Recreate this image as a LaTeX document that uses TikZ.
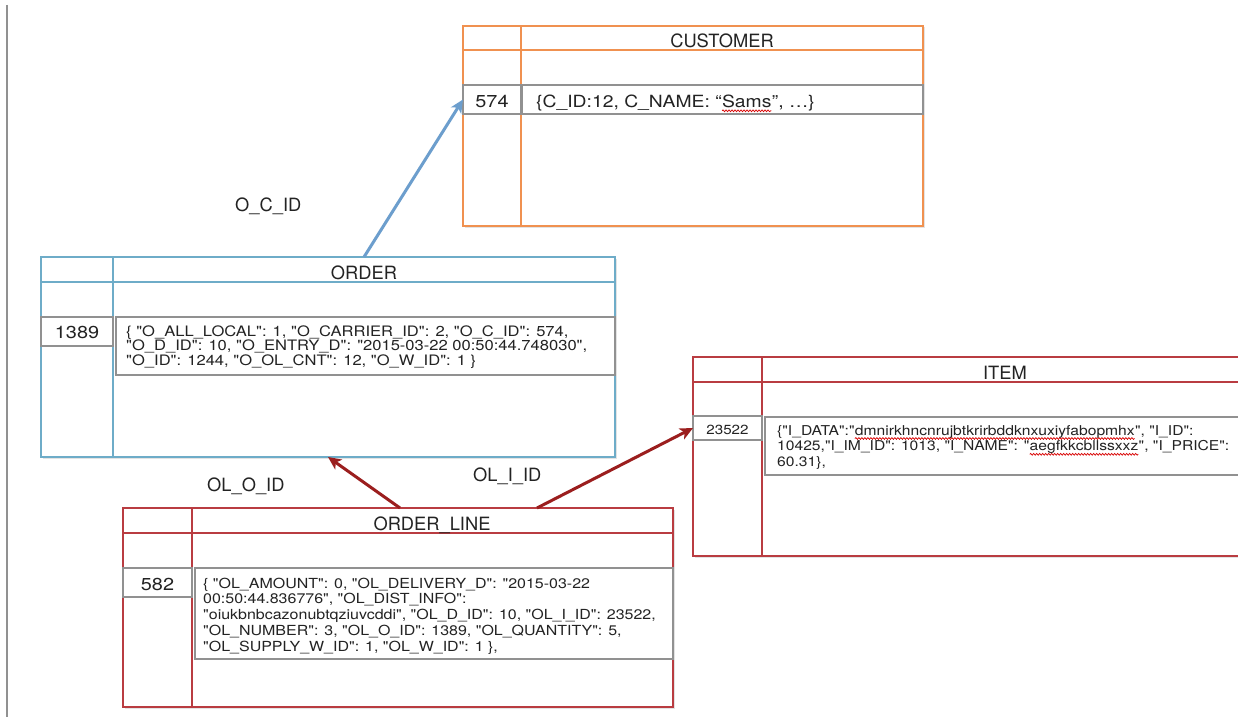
\documentclass[tikz,border=0pt]{standalone}
\usepackage{fontspec}
\setmainfont{TeX Gyre Heros}
\newfontfamily\datafont[FakeStretch=1.15]{TeX Gyre Heros}
\usetikzlibrary{arrows.meta,shadows,decorations.pathmorphing}
\definecolor{custorange}{RGB}{240,145,80}
\definecolor{ordblue}{RGB}{110,172,200}
\definecolor{tabred}{RGB}{185,60,65}
\definecolor{arrblue}{RGB}{108,158,205}
\definecolor{arrred}{RGB}{155,30,30}
\definecolor{rowgrey}{RGB}{145,145,145}
\definecolor{txt}{RGB}{35,35,35}
\newcommand\spellwave[1]{\tikz[baseline=(sw.base)]{\node[inner sep=0pt,outer sep=0pt,anchor=base west,text=txt] (sw) at (0,0) {#1};
  \draw[red!85!black, line width=0.7pt, decorate, decoration={snake, amplitude=0.9pt, segment length=3pt}] ([yshift=-3.5pt]sw.base west) -- ([yshift=-3.5pt]sw.base east);}}
\tikzset{
  tabbox/.style={anchor=north west, inner sep=0pt, outer sep=0pt, fill=white, line width=2pt,
    drop shadow={opacity=0.22, shadow xshift=1.5pt, shadow yshift=-1.5pt}},
  headcell/.style={anchor=north west, inner sep=0pt, outer sep=0pt},
  rowbox/.style={draw=rowgrey, anchor=north west, inner sep=0pt, outer sep=0pt, line width=1.4pt},
  titletext/.style={anchor=base, inner sep=0pt, text=txt, font=\fontsize{18.3}{20}\selectfont},
  keytext/.style={anchor=base, inner sep=0pt, text=txt, font=\datafont\fontsize{17.3}{20}\selectfont},
  datatext/.style={anchor=base west, inner sep=0pt, text=txt, align=left},
  reltext/.style={anchor=base west, inner sep=0pt, text=txt, font=\fontsize{18.3}{20}\selectfont},
  bluearrow/.style={draw=arrblue, line width=3pt, -{Stealth[length=13pt,width=12pt,inset=3.5pt]}},
  redarrow/.style={draw=arrred, line width=3pt, -{Stealth[length=13pt,width=12pt,inset=3.5pt]}},
}
\begin{document}
\begin{tikzpicture}[x=1pt,y=-1pt]
\useasboundingbox[fill=white] (0,0) rectangle (1238,717);
% left margin line
\draw[rowgrey, line width=1.5pt] (7,5) -- (7,717);

% ---------------- CUSTOMER ----------------
\node[tabbox, draw=custorange, minimum width=460pt, minimum height=200pt] (cust) at (463,26) {};
\draw[custorange, line width=2pt] (521,26) -- (521,226);
\draw[custorange, line width=2pt] (463,50) -- (923,50);
\node[headcell, minimum width=402pt, minimum height=24pt] (custhead) at (521,26) {};
\node[titletext] (custtitle) at (722,47.5) {CUSTOMER};
\node[rowbox, minimum width=58pt, minimum height=29pt] (custkey) at (463,85) {};
\node[rowbox, minimum width=401pt, minimum height=29pt] (custval) at (522,85) {};
\node[keytext] (custkeyt) at (492,107.3) {574};
\node[datatext, font=\datafont\fontsize{16.8}{20}\selectfont] (custvalt) at (536,107.3) {\{C\_ID:12, C\_NAME: “\spellwave{Sams}”, …\}};

% ---------------- ORDER ----------------
\node[tabbox, draw=ordblue, minimum width=574pt, minimum height=200pt] (ord) at (41,257) {};
\draw[ordblue, line width=2pt] (113,257) -- (113,457);
\draw[ordblue, line width=2pt] (41,282) -- (615,282);
\node[headcell, minimum width=502pt, minimum height=25pt] (ordhead) at (113,257) {};
\node[titletext] (ordtitle) at (364,279) {ORDER};
\node[rowbox, minimum width=72pt, minimum height=29pt] (ordkey) at (41,317) {};
\node[rowbox, minimum width=499pt, minimum height=58pt] (ordval) at (116,317) {};
\node[keytext] (ordkeyt) at (77,338.3) {1389};
% base anchor = baseline of the last line
\node[datatext, font=\datafont\fontsize{14.4}{14.5}\selectfont] (ordvalt) at (126,365) {%
\{ "O\_ALL\_LOCAL": 1, "O\_CARRIER\_ID": 2, "O\_C\_ID": 574,\\
"O\_D\_ID": 10, "O\_ENTRY\_D": "2015-03-22 00:50:44.748030",\\
"O\_ID": 1244, "O\_OL\_CNT": 12, "O\_W\_ID": 1 \}};

% ---------------- ITEM ----------------
\node[tabbox, draw=tabred, minimum width=557pt, minimum height=199pt] (item) at (693,357) {};
\draw[tabred, line width=2pt] (762,357) -- (762,556);
\draw[tabred, line width=2pt] (693,382) -- (1250,382);
\node[headcell, minimum width=488pt, minimum height=25pt] (itemhead) at (762,357) {};
\node[titletext] (itemtitle) at (1005,379) {ITEM};
\node[rowbox, minimum width=69pt, minimum height=24pt] (itemkey) at (693,416) {};
\node[rowbox, minimum width=485pt, minimum height=58pt] (itemval) at (765,417) {};
\node[keytext, font=\datafont\fontsize{13.2}{16}\selectfont] (itemkeyt) at (727.5,434.3) {23522};
\node[datatext, font=\datafont\fontsize{13.6}{15.8}\selectfont] (itemvalt) at (777,466.6) {%
\{"I\_DATA":"\spellwave{dmnirkhncnrujbtkrirbddknxuxiyfabopmhx}", "I\_ID":\\
10425,"I\_IM\_ID": 1013, "I\_NAME": "\spellwave{aegfkkcbllssxxz}", "I\_PRICE":\\
60.31\},};

% ---------------- ORDER_LINE ----------------
\node[tabbox, draw=tabred, minimum width=550pt, minimum height=199pt] (ol) at (123,508) {};
\draw[tabred, line width=2pt] (192,508) -- (192,707);
\draw[tabred, line width=2pt] (123,533) -- (673,533);
\node[headcell, minimum width=481pt, minimum height=25pt] (olhead) at (192,508) {};
\node[titletext] (oltitle) at (432,530) {ORDER\_LINE};
\node[rowbox, minimum width=69pt, minimum height=29pt] (olkey) at (123,568) {};
\node[rowbox, minimum width=478pt, minimum height=91pt] (olval) at (195,568) {};
\node[keytext] (olkeyt) at (157.5,590) {582};
\node[datatext, font=\datafont\fontsize{13.9}{15.8}\selectfont] (olvalt) at (203,651.2) {%
\{ "OL\_AMOUNT": 0, "OL\_DELIVERY\_D": "2015-03-22\\
00:50:44.836776", "OL\_DIST\_INFO":\\
"oiukbnbcazonubtqziuvcddi", "OL\_D\_ID": 10, "OL\_I\_ID": 23522,\\
"OL\_NUMBER": 3, "OL\_O\_ID": 1389, "OL\_QUANTITY": 5,\\
"OL\_SUPPLY\_W\_ID": 1, "OL\_W\_ID": 1 \},};

% ---------------- relation labels ----------------
\node[reltext] (lococid) at (235,211) {O\_C\_ID};
\node[reltext] (loloid) at (207,491) {OL\_O\_ID};
\node[reltext] (lolid) at (473,481.7) {OL\_I\_ID};

% ---------------- connectors ----------------
\coordinate (olA) at (400,508);
\coordinate (olB) at (537,508);
\coordinate (ordB) at (328,457);
\draw[bluearrow] (ordhead.north) -- (custkey.west);
\draw[redarrow] (olA) -- (ordB);
\draw[redarrow] (olB) -- (itemkey.west);
\end{tikzpicture}
\end{document}
